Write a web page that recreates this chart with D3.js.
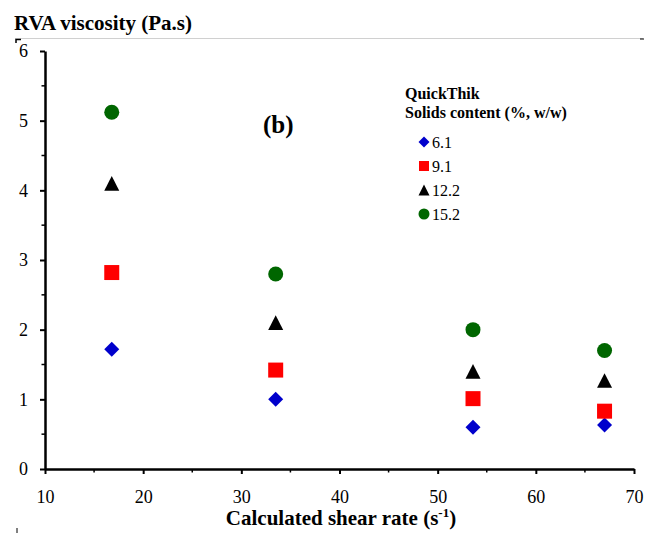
<!DOCTYPE html>
<html>
<head>
<meta charset="utf-8">
<script src="https://cdn.jsdelivr.net/npm/d3@7"></script>
<style>
  body { margin: 0; background: #fff; }
</style>
</head>
<body>
<div id="chart"></div>
<script>
const width = 659, height = 534;
const margin = { left: 45, right: 25, top: 51, bottom: 65 };
const serif = "Liberation Serif";

// data
const shearRate = [16.8, 33.5, 53.6, 67.0];
const solidsLabels = ["6.1", "9.1", "12.2", "15.2"];
const visc61 = [1.72, 1.00, 0.60, 0.63];
const visc91 = [2.82, 1.42, 1.01, 0.83];
const visc122 = [4.10, 2.10, 1.40, 1.27];
const visc152 = [5.12, 2.80, 2.00, 1.70];
const xTicks = [10, 20, 30, 40, 50, 60, 70];
const yTicks = [0, 1, 2, 3, 4, 5, 6];

const series = [
  { label: solidsLabels[0], values: visc61, color: "#0000cc", shape: "diamond" },
  { label: solidsLabels[1], values: visc91, color: "#ff0000", shape: "square" },
  { label: solidsLabels[2], values: visc122, color: "#000000", shape: "triangle" },
  { label: solidsLabels[3], values: visc152, color: "#006600", shape: "circle" }
];

// marker shapes sized by pixel width
const markerPath = (shape, w) => {
  const h = w / 2;
  if (shape === "diamond") return `M0,${-h}L${h},0L0,${h}L${-h},0Z`;
  if (shape === "square") return `M${-h},${-h}H${h}V${h}H${-h}Z`;
  if (shape === "triangle") { const t = w * 0.98 / 2; return `M0,${-t}L${h},${t}L${-h},${t}Z`; }
  return `M${h},0A${h},${h} 0 1,1 ${-h},0A${h},${h} 0 1,1 ${h},0Z`;
};

const svg = d3.select("#chart").append("svg")
  .attr("width", width).attr("height", height)
  .attr("font-family", serif);

const innerWidth = width - margin.left - margin.right;
const innerHeight = height - margin.top - margin.bottom;

const xScale = d3.scaleLinear().domain([10, 70]).range([margin.left, margin.left + innerWidth]);
const yScale = d3.scaleLinear().domain([0, 6]).range([margin.top + innerHeight, margin.top]);

// thin frame line at the top
svg.append("line")
  .attr("x1", 15).attr("x2", 643).attr("y1", 38.5).attr("y2", 38.5)
  .attr("stroke", "#d0d0d0").attr("stroke-width", 1);
svg.append("path").attr("d", "M16,43V39.5H21").attr("fill", "none").attr("stroke", "#000").attr("stroke-width", 1.5);
svg.append("path").attr("d", "M640,39H644").attr("fill", "none").attr("stroke", "#000").attr("stroke-width", 1);
svg.append("path").attr("d", "M17,528V533").attr("fill", "none").attr("stroke", "#000").attr("stroke-width", 1);

// minor ticks
const xMinor = xTicks.slice(0, -1).map(d => d + 5);
const yMinor = yTicks.slice(0, -1).map(d => d + 0.5);

svg.append("g").selectAll("line").data(xMinor).join("line")
  .attr("x1", d => xScale(d)).attr("x2", d => xScale(d))
  .attr("y1", yScale(0)).attr("y2", yScale(0) + 3.5)
  .attr("stroke", "#000").attr("stroke-width", 1.5);
svg.append("g").selectAll("line").data(yMinor).join("line")
  .attr("y1", d => yScale(d)).attr("y2", d => yScale(d))
  .attr("x1", xScale(10)).attr("x2", xScale(10) - 3.5)
  .attr("stroke", "#000").attr("stroke-width", 1.5);

// axes
const xAxis = svg.append("g")
  .attr("transform", `translate(0,${yScale(0)})`)
  .call(d3.axisBottom(xScale).tickValues(xTicks).tickFormat(d3.format("d"))
    .tickSize(5).tickPadding(16).tickSizeOuter(0));
const yAxis = svg.append("g")
  .attr("transform", `translate(${xScale(10)},0)`)
  .call(d3.axisLeft(yScale).tickValues(yTicks).tickFormat(d3.format("d"))
    .tickSize(5).tickPadding(12).tickSizeOuter(0));

[xAxis, yAxis].forEach(a => {
  a.attr("font-family", serif).attr("font-size", 18);
  a.select(".domain").attr("stroke", "#000").attr("stroke-width", 2.5);
  a.selectAll(".tick line").attr("stroke", "#000").attr("stroke-width", 2);
  a.selectAll(".tick text").attr("fill", "#000");
});

// points
series.forEach(s => {
  svg.append("g").selectAll("path").data(s.values).join("path")
    .attr("d", markerPath(s.shape, 15))
    .attr("transform", (d, i) => `translate(${xScale(shearRate[i])},${yScale(d)})`)
    .attr("fill", s.color);
});

// axis titles
svg.append("text")
  .attr("x", 14).attr("y", 30)
  .attr("font-weight", "bold").attr("font-size", 21)
  .text("RVA viscosity (Pa.s)");

const xt = svg.append("text")
  .attr("x", 341).attr("y", 525).attr("text-anchor", "middle")
  .attr("font-weight", "bold").attr("font-size", 21);
xt.append("tspan").text("Calculated shear rate (s");
xt.append("tspan").attr("dy", -8).attr("font-size", 13).text("-1");
xt.append("tspan").attr("dy", 8).text(")");

// panel label
svg.append("text")
  .attr("x", 263).attr("y", 133)
  .attr("font-weight", "bold").attr("font-size", 25)
  .text("(b)");

// legend
const legend = svg.append("g");
legend.append("text").attr("x", 405).attr("y", 99)
  .attr("font-weight", "bold").attr("font-size", 16).text("QuickThik");
legend.append("text").attr("x", 405).attr("y", 118)
  .attr("font-weight", "bold").attr("font-size", 16).text("Solids content (%, w/w)");

const entry = legend.selectAll("g.entry").data(series).join("g")
  .attr("class", "entry")
  .attr("transform", (d, i) => `translate(424,${142 + i * 24})`);
entry.append("path")
  .attr("d", d => markerPath(d.shape, d.shape === "square" ? 10 : 11))
  .attr("fill", d => d.color);
entry.append("text")
  .attr("x", 8).attr("y", 6)
  .attr("font-size", 16)
  .text(d => d.label);
</script>
</body>
</html>
